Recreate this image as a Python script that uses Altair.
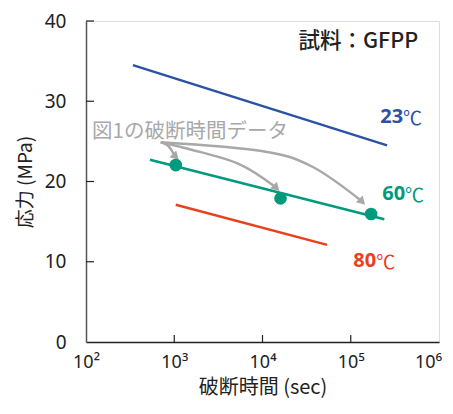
import altair as alt
import pandas as pd

# ---- data ----
line_series = ["23℃", "23℃", "60℃", "60℃", "80℃", "80℃"]
line_time = [340, 2.58e5, 530, 2.4e5, 1040, 5.4e4]
line_stress = [34.5, 24.5, 22.7, 15.3, 17.1, 12.1]

pt_time = [1040, 1.6e4, 1.7e5]
pt_stress = [22.05, 17.9, 15.95]

arrow_id = [1, 1, 1, 2, 2, 2, 2, 3, 3, 3, 3]
arrow_time = [703, 860, 1014, 703, 1459, 5357, 14030, 703, 9750, 35800, 1.315e5]
arrow_stress = [24.9, 24.4, 23.2, 24.9, 24.05, 22.2, 19.3, 24.9, 23.8, 21.9, 17.6]
arrow_tip_time = [1014, 14030, 1.315e5]
arrow_tip_stress = [23.2, 19.3, 17.6]

x_ticks = [100, 1000, 10000, 100000, 1000000]
x_tick_labels = ["10²", "10³", "10⁴", "10⁵", "10⁶"]
y_ticks = [0, 10, 20, 30, 40]
inner_x_ticks = [1000, 10000, 100000]
inner_y_ticks = [10, 20, 30, 40]

colors = {"23℃": "#2b52a3", "60℃": "#009a7c", "80℃": "#e8411e"}
gray = "#a8a8a8"
FONT = "Noto Sans CJK JP"
NUMFONT = "Noto Sans"

W, H = 353, 321

lines_df = pd.DataFrame({"series": line_series, "t": line_time, "s": line_stress})
pts_df = pd.DataFrame({"t": pt_time, "s": pt_stress})
arr_df = pd.DataFrame({"id": arrow_id, "t": arrow_time, "s": arrow_stress, "order": list(range(len(arrow_id)))})
tip_df = pd.DataFrame({"t": arrow_tip_time, "s": arrow_tip_stress})

label_expr = " : ".join(
    f"datum.value == {v} ? '{l}'" for v, l in zip(x_ticks, x_tick_labels)
) + " : ''"

xscale = alt.Scale(type="log", domain=[100, 1e6])
yscale = alt.Scale(domain=[0, 40])
cscale = alt.Scale(domain=list(colors.keys()), range=list(colors.values()))

xenc = alt.X("t:Q", scale=xscale, axis=alt.Axis(
    values=x_ticks, labelExpr=label_expr, title="破断時間 (sec)",
    tickSize=0, labelPadding=11, labelFontSize=18, titleFontSize=20,
    titleFontWeight="normal", titlePadding=6, grid=False,
    domainColor="#222", domainWidth=1.5, labelColor="#222", titleColor="#222",
    labelFont=NUMFONT, titleFont=FONT, labelFlush=False, labelBound=False,
    labelOffset={"condition": {"test": "datum.value >= 1000000", "value": -11}, "value": 0}))
yenc = alt.Y("s:Q", scale=yscale, axis=alt.Axis(
    values=y_ticks, title="応力 (MPa)", tickSize=0, labelPadding=20,
    labelFontSize=19, titleFontSize=19, titleFontWeight="normal",
    titlePadding=9, grid=False, domainColor="#555", domainWidth=1.5,
    labelColor="#222", titleColor="#222", labelFont=NUMFONT, titleFont=FONT))

lines = alt.Chart(lines_df).mark_line(strokeWidth=2.5).encode(
    x=xenc, y=yenc,
    color=alt.Color("series:N", scale=cscale, legend=None),
    detail="series:N")

pts = alt.Chart(pts_df).mark_circle(size=160, opacity=1, color=colors["60℃"]).encode(x="t:Q", y="s:Q")

arrows = alt.Chart(arr_df).mark_line(strokeWidth=2.5, color=gray, interpolate="cardinal").encode(
    x="t:Q", y="s:Q", detail="id:N", order="order:Q")
tips = alt.Chart(tip_df).mark_point(shape="triangle", filled=True, size=90, angle=135, color=gray, opacity=1).encode(
    x="t:Q", y="s:Q")

# inward ticks
xt = alt.Chart(pd.DataFrame({"t": inner_x_ticks})).mark_rule(color="#222", strokeWidth=1.2).encode(
    x="t:Q", y=alt.value(H), y2=alt.value(H - 7))
yt = alt.Chart(pd.DataFrame({"s": inner_y_ticks})).mark_rule(color="#222", strokeWidth=1.2).encode(
    y="s:Q", x=alt.value(0), x2=alt.value(8))

title_txt = alt.Chart(pd.DataFrame({"t": [5.8e5], "s": [37.4], "label": ["試料：GFPP"]})).mark_text(
    font=FONT, align="right", baseline="middle", fontSize=21.5, fontWeight=500, color="#222").encode(
    x="t:Q", y="s:Q", text="label:N")

num_df = pd.DataFrame({"t": [3.92e5, 4.13e5, 1.94e5], "s": [28.0, 18.4, 10.1],
                       "label": ["23", "60", "80"], "series": ["23℃", "60℃", "80℃"]})
nums = alt.Chart(num_df).mark_text(font=NUMFONT, align="right", baseline="middle", fontSize=20, fontWeight="bold").encode(
    x="t:Q", y="s:Q", text="label:N",
    color=alt.Color("series:N", scale=cscale, legend=None))
deg_df = pd.DataFrame({"t": [3.92e5, 4.13e5, 1.94e5], "s": [27.8, 18.2, 9.9],
                       "label": ["℃", "℃", "℃"], "series": ["23℃", "60℃", "80℃"]})
degs = alt.Chart(deg_df).mark_text(font=FONT, align="left", baseline="middle", fontSize=19).encode(
    x="t:Q", y="s:Q", text="label:N",
    color=alt.Color("series:N", scale=cscale, legend=None))

ann = alt.Chart(pd.DataFrame({"t": [117], "s": [26.2], "label": ["図1の破断時間データ"]})).mark_text(
    font=FONT, align="left", baseline="middle", fontSize=20.5, color=gray).encode(
    x="t:Q", y="s:Q", text="label:N")

chart = alt.layer(lines, arrows, tips, pts, xt, yt, title_txt, nums, degs, ann).properties(
    width=W, height=H,
    autosize=alt.AutoSizeParams(type="none"),
    padding={"left": 78, "top": 13, "right": 6, "bottom": 60},
).configure_view(stroke="#555", strokeWidth=1.5).configure(background="white")

chart.save("out.html", embed_options={"renderer": "svg", "actions": False})
